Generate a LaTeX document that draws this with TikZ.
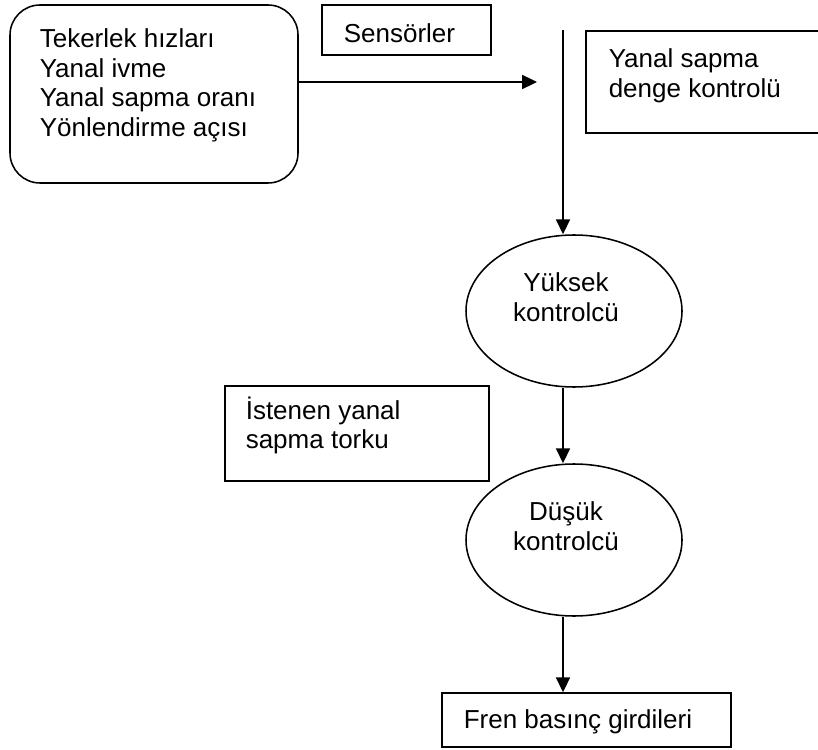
\documentclass[tikz,border=0pt]{standalone}
\usepackage{fontspec}
\setmainfont{Liberation Sans}
\usetikzlibrary{arrows.meta,shapes.geometric}

\begin{document}
\begin{tikzpicture}[>={Triangle[length=0.37cm,width=0.35cm]},line width=1.1pt,
  kutu/.style={draw,inner sep=0pt},
  elips/.style={draw,ellipse,inner sep=0pt,minimum width=5.4cm,minimum height=3.8cm},
  yazi/.style={inner sep=0pt,align=left,font=\fontsize{18.5pt}{21pt}\selectfont}]
\useasboundingbox (0,0) rectangle (20.45,18.725);
\clip (0,0) rectangle (20.45,18.725);
\node[kutu,rounded corners=0.75cm,minimum width=7.2cm,minimum height=4.45cm] (olcum) at (3.85,16.375) {};
\node[yazi,anchor=north west] (olcumtxt) at (0.975,18.025) {Tekerlek hızları\\Yanal ivme\\Yanal sapma oranı\\Yönlendirme açısı};
\node[kutu,minimum width=4.225cm,minimum height=1.25cm] (sens) at (10.1625,17.975) {};
\node[yazi,anchor=north west] (senstxt) at (8.575,18.15) {Sensörler};
\node[kutu,minimum width=6.1cm,minimum height=2.55cm] (denge) at (17.7,16.675) {};
\node[yazi,anchor=north west] (dengetxt) at (15.2,17.525) {Yanal sapma\\denge kontrolü};
\node[elips] (yuksek) at (14.35,10.95) {};
\node[yazi,align=center] (yuksektxt) at ([xshift=-0.2cm,yshift=0.34cm]yuksek.center) {Yüksek\\kontrolcü};
\node[kutu,minimum width=6.6cm,minimum height=2.375cm] (tork) at (8.925,7.8875) {};
\node[yazi,anchor=north west] (torktxt) at (6.125,8.825) {İstenen yanal\\sapma torku};
\node[elips] (dusuk) at (14.35,5.225) {};
\node[yazi,align=center] (dusuktxt) at ([xshift=-0.2cm,yshift=0.34cm]dusuk.center) {Düşük\\kontrolcü};
\node[kutu,minimum width=7.225cm,minimum height=1.35cm] (fren) at (14.6625,0.725) {};
\node[yazi,anchor=north west] (frentxt) at (11.575,1.0) {Fren basınç girdileri};
\coordinate (sensbas) at (14.075,17.975);
\coordinate (okuc) at (13.425,16.675);
\draw[->] (olcum.east |- okuc) -- (okuc);
\draw[->] (sensbas) -- (sensbas |- yuksek.north);
\draw[->] (yuksek.south -| sensbas) -- (dusuk.north -| sensbas);
\draw[->] (dusuk.south -| sensbas) -- (fren.north -| sensbas);
\end{tikzpicture}
\end{document}
